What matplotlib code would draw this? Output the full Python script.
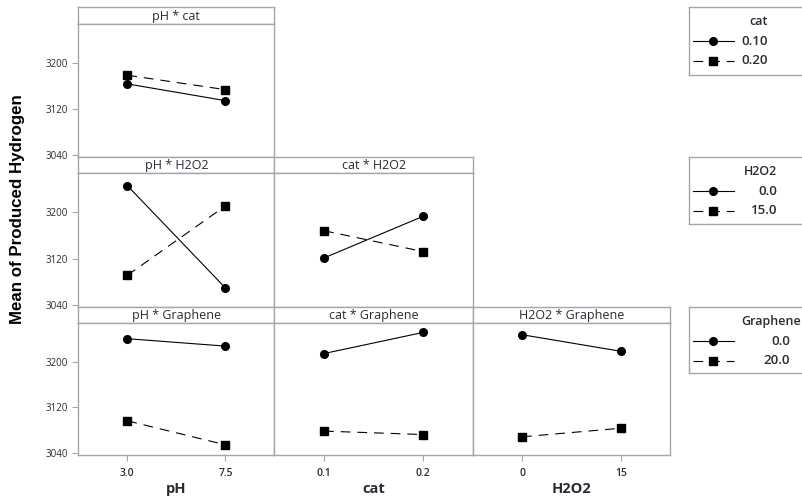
import matplotlib
matplotlib.use("Agg")
import matplotlib.pyplot as plt
from matplotlib.lines import Line2D

# ---- data: interaction means of produced hydrogen ----
ph_levels = ["3.0", "7.5"]
cat_levels = ["0.1", "0.2"]
h2o2_levels = ["0", "15"]

cat_legend = ["0.10", "0.20"]
h2o2_legend = ["0.0", "15.0"]
graphene_legend = ["0.0", "20.0"]

ph_cat = [[3163, 3134], [3178, 3153]]          # rows: cat 0.10, 0.20
ph_h2o2 = [[3246, 3069], [3091, 3211]]         # rows: H2O2 0, 15
ph_graphene = [[3240, 3227], [3096, 3054]]     # rows: Graphene 0, 20
cat_h2o2 = [[3121, 3193], [3168, 3132]]
cat_graphene = [[3214, 3251], [3078, 3072]]
h2o2_graphene = [[3247, 3218], [3068, 3083]]

y_ticks = [3040, 3120, 3200]
y_lim = (3037, 3267)

# ---- layout ----
W, H = 803, 501
plt.rcParams["lines.scale_dashes"] = False
fig = plt.figure(figsize=(W / 100, H / 100), dpi=100)

FRAME = "#a6a6a6"
TXT = "#2a2a35"
FONT = "Open Sans"


def rect(x0, y0, x1, y1):
    return [x0 / W, 1 - y1 / H, (x1 - x0) / W, (y1 - y0) / H]


col_edges = [78.3, 274.5, 472.7, 670.0]
row_tops = [7.0, 156.7, 306.5, 454.5]
strip_h = 16.8

x_factors = [("pH", ph_levels), ("cat", cat_levels), ("H2O2", h2o2_levels)]
row_factor = ["cat", "H2O2", "Graphene"]
panels = {
    (0, 0): ph_cat,
    (1, 0): ph_h2o2,
    (2, 0): ph_graphene,
    (1, 1): cat_h2o2,
    (2, 1): cat_graphene,
    (2, 2): h2o2_graphene,
}

DASH = (0, (7, 5))
styles = [dict(marker="o", linestyle="-"), dict(marker="s", linestyle=DASH)]

for (r, c), series in panels.items():
    x0, x1 = col_edges[c], col_edges[c + 1]
    top, bot = row_tops[r], row_tops[r + 1]
    # strip header
    sax = fig.add_axes(rect(x0, top, x1, top + strip_h))
    sax.set_xticks([])
    sax.set_yticks([])
    for s in sax.spines.values():
        s.set_color(FRAME)
        s.set_linewidth(1.0)
    sax.text(0.5, 0.45, f"{x_factors[c][0]} * {row_factor[r]}", ha="center", va="center",
             fontsize=9, family=FONT, color=TXT, transform=sax.transAxes)
    # data area
    ax = fig.add_axes(rect(x0, top + strip_h, x1, bot))
    levels = x_factors[c][1]
    xs = list(range(len(levels)))
    for vals, st in zip(series, styles):
        ax.plot(xs, vals, color="black", lw=0.8, markersize=5.5, **st)
    ax.set_xlim(-0.5, 1.5)
    ax.set_ylim(*y_lim)
    for s in ax.spines.values():
        s.set_color(FRAME)
        s.set_linewidth(1.0)
    ax.tick_params(colors=FRAME, labelcolor=TXT, length=4, width=0.8)
    if c == 0:
        ax.set_yticks(y_ticks)
        ax.set_yticklabels([str(v) for v in y_ticks], fontsize=7, family=FONT)
    else:
        ax.set_yticks([])
    if r == 2:
        ax.set_xticks(xs)
        ax.set_xticklabels(levels, fontsize=7.5, family=FONT, fontweight="semibold")
        ax.tick_params(axis="x", pad=6)
        ax.set_xlabel(x_factors[c][0], fontsize=10.5, fontweight="bold", family=FONT,
                      color=TXT, labelpad=2)
    else:
        ax.set_xticks([])

fig.text(18 / W, 1 - 209 / H, "Mean of Produced Hydrogen", rotation=90, ha="center",
         va="center", fontsize=12.2, fontweight="bold", family="Liberation Sans",
         color="black")

# ---- legend boxes ----
legends = [
    ("cat", cat_legend, 7.3, 75.0, 767.5),
    ("H2O2", h2o2_legend, 157.3, 224.0, 777.0),
    ("Graphene", graphene_legend, 307.3, 372.7, 790.0),
]
for title, labels, ytop, ybot, xr in legends:
    lax = fig.add_axes(rect(689.3, ytop, 840, ybot))
    lax.set_xlim(689.3, 840)
    lax.set_ylim(ybot, ytop)
    lax.set_xticks([])
    lax.set_yticks([])
    lax.patch.set_alpha(0)
    for s in lax.spines.values():
        s.set_color(FRAME)
        s.set_linewidth(1.0)
    lax.spines["right"].set_visible(False)
    title_x = 801 if title == "Graphene" else xr
    lax.text(title_x, ytop + 14, title, ha="right", va="center", fontsize=9,
             family=FONT, fontweight="semibold", color=TXT)
    for k, (lab, st) in enumerate(zip(labels, styles)):
        yy = ytop + 34 + k * 19.5
        lax.add_line(Line2D([693, 734], [yy, yy], color="black", lw=0.8,
                            linestyle=st["linestyle"]))
        lax.plot([713], [yy], color="black", marker=st["marker"], markersize=5.5,
                 linestyle="none")
        lax.text(xr, yy, lab, ha="right", va="center", fontsize=9.5, family=FONT,
                 fontweight="semibold", color=TXT)

fig.savefig("out.png", dpi=100)
